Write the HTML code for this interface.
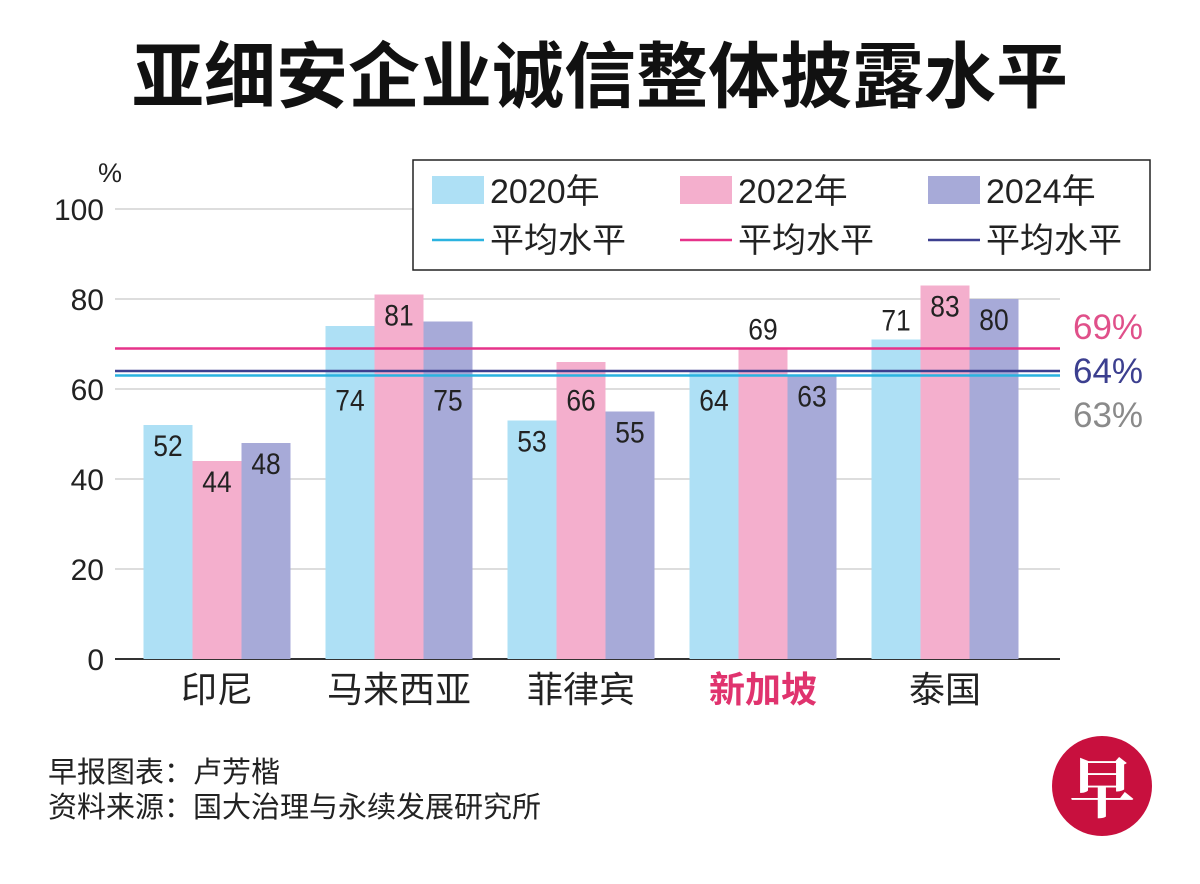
<!DOCTYPE html>
<html><head><meta charset="utf-8"><style>
body{margin:0;background:#fff;}
svg{display:block;font-family:"Liberation Sans","Noto Sans CJK SC",sans-serif;}
</style></head><body>
<svg id="c" width="1200" height="884" viewBox="0 0 1200 884">
<text x="600" y="102" text-anchor="middle" font-size="72" font-weight="bold" fill="#111" font-family="Noto Sans CJK SC, sans-serif">亚细安企业诚信整体披露水平</text>
<text x="98" y="182" font-size="27" fill="#222">%</text>
<g id="grid"></g><g id="bars"></g><g id="avg"></g><g id="labels"></g>
<g>
<rect x="413" y="160" width="737" height="110" fill="#fff" stroke="#222" stroke-width="1.5"/>
<rect x="432" y="176" width="52" height="28" fill="#aee0f5"/>
<text x="490" y="203" font-size="34" fill="#222">2020年</text>
<rect x="680" y="176" width="52" height="28" fill="#f4afcd"/>
<text x="738" y="203" font-size="34" fill="#222">2022年</text>
<rect x="928" y="176" width="52" height="28" fill="#a7aad8"/>
<text x="986" y="203" font-size="34" fill="#222">2024年</text>
<line x1="432" y1="240" x2="484" y2="240" stroke="#2bb3e0" stroke-width="2.5"/>
<text x="490" y="252" font-size="34" fill="#222">平均水平</text>
<line x1="680" y1="240" x2="732" y2="240" stroke="#e6338a" stroke-width="2.5"/>
<text x="738" y="252" font-size="34" fill="#222">平均水平</text>
<line x1="928" y1="240" x2="980" y2="240" stroke="#3c3f8f" stroke-width="2.5"/>
<text x="986" y="252" font-size="34" fill="#222">平均水平</text>
</g>
<text x="48" y="782" font-size="29" fill="#222">早报图表：卢芳楷</text>
<text x="48" y="817" font-size="29" fill="#222">资料来源：国大治理与永续发展研究所</text>
<g>
<circle cx="1102" cy="786" r="50" fill="#c8103e"/>
<text x="1102" y="812" text-anchor="middle" font-size="66" font-weight="bold" fill="#fff" font-family="Noto Serif CJK SC, serif">早</text>
</g>
</svg>
<script>
const categories=["印尼","马来西亚","菲律宾","新加坡","泰国"];
const s2020=[52,74,53,64,71];
const s2022=[44,81,66,69,83];
const s2024=[48,75,55,63,80];
const averages=[63,69,64];
const avgLabels=["63%","69%","64%"];
const yTicks=[0,20,40,60,80,100];
const NS="http://www.w3.org/2000/svg";
const X0=115,X1=1060,Y0=659,PX=4.5,GW=182,G0=217,BW=49;
const y=v=>Y0-v*PX;
const gx=i=>G0+i*GW;
function mk(t,a,p,txt){const e=document.createElementNS(NS,t);for(const k in a)e.setAttribute(k,a[k]);if(txt!=null)e.textContent=txt;p.appendChild(e);return e;}
const grid=document.getElementById('grid'),bars=document.getElementById('bars'),avg=document.getElementById('avg'),labels=document.getElementById('labels');
yTicks.forEach(t=>{
 const l=mk('line',{x1:X0,x2:X1,y1:y(t),y2:y(t),stroke:t===0?'#333':'#bbb','stroke-width':t===0?2:1},grid);
 
 
 const tx=mk('text',{x:104,y:y(t)+11,'text-anchor':'end','font-size':30,fill:'#222'},grid,String(t));
 
 
});
const series=[s2020,s2022,s2024],cols=['#aee0f5','#f4afcd','#a7aad8'],yrs=['2020','2022','2024'];
const avgCols=['#2bb3e0','#e6338a','#3c3f8f'];
const bandTop=y(Math.max(...averages)),bandBot=y(Math.min(...averages));
categories.forEach((c,i)=>{
 series.forEach((s,j)=>{
  const x=gx(i)-1.5*BW+j*BW,top=y(s[i]);
  const r=mk('rect',{x:x,y:top,width:BW,height:Y0-top,fill:cols[j]},bars);
  
  
  let ly=top+31;
  if(ly>bandTop-4&&ly<bandBot+30){
   if(top>=bandTop-12&&top<=bandTop+5) ly=top-9; else ly=Math.max(top+31,bandBot+35);
  }
  const t=mk('text',{x:x+BW/2,y:ly,'text-anchor':'middle','font-size':30,fill:'#222',transform:'translate('+(x+BW/2)+' 0) scale(0.88 1) translate('+(-(x+BW/2))+' 0)'},labels,String(s[i]));
  
  
 });
 const cl=mk('text',{x:gx(i),y:702,'text-anchor':'middle','font-size':36,fill:i===3?'#e0336e':'#222','font-weight':i===3?'bold':'normal'},labels,c);
 
 
});
averages.forEach((a,j)=>{
 const l=mk('line',{x1:X0,x2:X1,y1:y(a),y2:y(a),stroke:avgCols[j],'stroke-width':2.5},avg);
 
 
});
const order=[1,2,0],rcols=['#8a8a8a','#e0508a','#3c3f8f'];
order.forEach((j,k)=>{
 const t=mk('text',{x:1073,y:339+k*44,'font-size':35,fill:rcols[j]},labels,avgLabels[j]);
 
 
});
</script>
</body></html>
